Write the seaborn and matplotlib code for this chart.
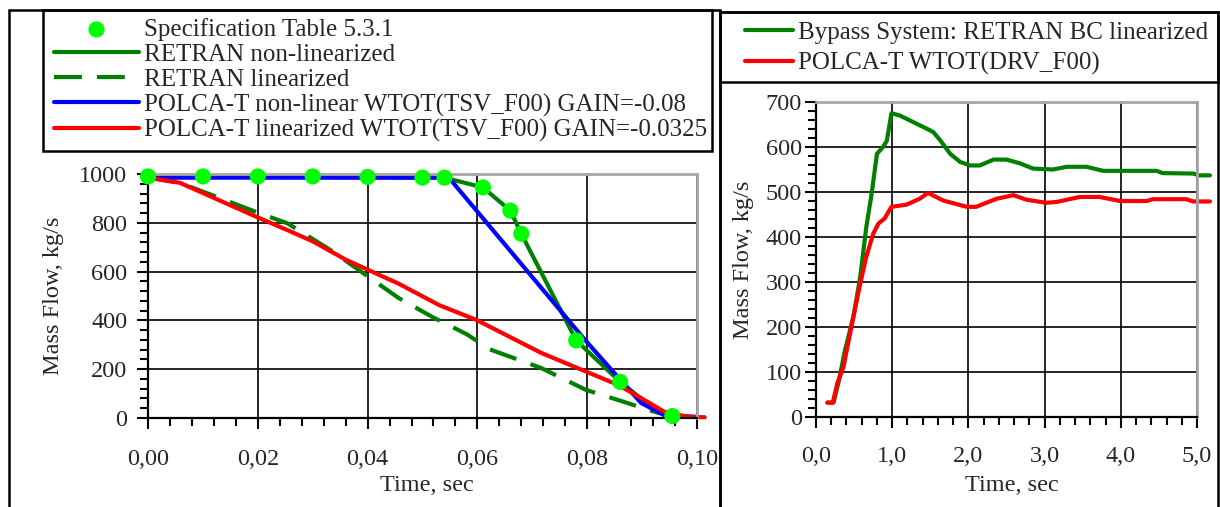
import matplotlib
matplotlib.use("Agg")
import matplotlib.pyplot as plt
import seaborn as sns
from matplotlib.patches import Rectangle
from matplotlib.ticker import MultipleLocator, FuncFormatter

# ---- left chart data (time in s, mass flow in kg/s) ----
spec_t = [0, 0.01, 0.02, 0.03, 0.04, 0.05, 0.054, 0.061, 0.066, 0.068, 0.078, 0.086, 0.0955]
spec_w = [990, 990, 990, 990, 988, 985, 985, 945, 850, 755, 318, 148, 8]

retran_nl_t = [0, 0.054, 0.061, 0.066, 0.068, 0.078, 0.086, 0.0916, 0.0955]
retran_nl_w = [990, 985, 945, 850, 755, 318, 148, 48, 8]

retran_lin_t = [0, 0.0058, 0.0202, 0.0254, 0.0334, 0.0395, 0.0457, 0.0518, 0.058, 0.0623,
                0.0716, 0.0798, 0.0856, 0.0916, 0.0955]
retran_lin_w = [985, 964, 840, 798, 686, 589, 491, 414, 344, 281, 205, 115, 74, 30, 5]

polca_nl_t = [0, 0.0548, 0.0796, 0.0855, 0.0898, 0.094, 0.0997]
polca_nl_w = [985, 985, 320, 170, 62, 12, 5]

polca_lin_t = [0, 0.0058, 0.0202, 0.0254, 0.030, 0.036, 0.040, 0.0457, 0.053, 0.060, 0.0716,
               0.0798, 0.0856, 0.0898, 0.094, 0.0983, 0.1014]
polca_lin_w = [985, 964, 820, 770, 724, 649, 608, 550, 463, 400, 267, 190, 136, 82, 26, 5, 3]

left_labels = ["Specification Table 5.3.1",
               "RETRAN non-linearized",
               "RETRAN linearized",
               "POLCA-T non-linear WTOT(TSV_F00) GAIN=-0.08",
               "POLCA-T linearized WTOT(TSV_F00) GAIN=-0.0325"]

# ---- right chart data ----
bypass_t = [0.15, 0.23, 0.30, 0.38, 0.49, 0.58, 0.66, 0.73, 0.80, 0.88, 0.93, 0.99, 1.10, 1.28,
            1.45, 1.54, 1.63, 1.76, 1.89, 2.02, 2.15, 2.33, 2.50, 2.67, 2.85, 3.11, 3.29, 3.55,
            3.77, 4.47, 4.55, 4.95, 5.03, 5.17]
bypass_w = [32, 32, 80, 148, 222, 311, 422, 496, 585, 600, 614, 675, 670, 655, 641, 633, 615,
            585, 567, 559, 559, 572, 572, 564, 552, 550, 556, 556, 547, 547, 542, 541, 537, 537]

drv_t = [0.15, 0.22, 0.28, 0.36, 0.49, 0.58, 0.66, 0.75, 0.82, 0.90, 0.99, 1.19, 1.36, 1.47,
         1.67, 1.98, 2.10, 2.37, 2.59, 2.76, 3.02, 3.16, 3.46, 3.72, 3.99, 4.34, 4.42, 4.86,
         4.95, 5.17]
drv_w = [32, 32, 75, 111, 222, 296, 356, 407, 430, 441, 467, 472, 485, 498, 481, 467, 467,
         485, 493, 483, 476, 478, 489, 489, 480, 480, 484, 484, 479, 479]

right_labels = ["Bypass System: RETRAN BC linearized", "POLCA-T WTOT(DRV_F00)"]

sns.set_theme(style="white")
plt.rcParams["font.family"] = ["Liberation Serif", "DejaVu Serif"]

W, H = 1220, 507
fig = plt.figure(figsize=(W / 100, H / 100), dpi=100)


def fx(px):
    return px / W


def fy(py):
    return 1 - py / H


LW = 3
FS = 17.5


def style_axes(ax, xpad, ypad):
    ax.set_axisbelow(True)
    ax.grid(True, which="major", color="black", lw=1.2)
    for s in ["left", "bottom"]:
        ax.spines[s].set_color("black")
        ax.spines[s].set_linewidth(1.6)
    for s in ["top", "right"]:
        ax.spines[s].set_color("#A6A6A6")
        ax.spines[s].set_linewidth(2)
    ax.tick_params(which="major", direction="out", length=8, width=1.5, color="black",
                   labelsize=FS, bottom=True, left=True)
    ax.tick_params(which="minor", direction="out", length=6, width=1.5, color="black",
                   bottom=True, left=True)
    ax.tick_params(axis="x", which="major", pad=xpad)
    ax.tick_params(axis="y", which="major", pad=ypad)
    ax.set_facecolor("white")


# ---------------- left chart ----------------
ax1 = fig.add_axes([fx(148), fy(418), (697 - 148) / W, (418 - 174) / H])
sns.lineplot(x=retran_lin_t, y=retran_lin_w, ax=ax1, color="#008000", lw=LW,
             linestyle=(0, (6.7, 3.6)), label=left_labels[2], estimator=None, sort=False,
             clip_on=False)
sns.lineplot(x=retran_nl_t, y=retran_nl_w, ax=ax1, color="#008000", lw=LW,
             label=left_labels[1], estimator=None, sort=False, clip_on=False)
sns.lineplot(x=polca_nl_t, y=polca_nl_w, ax=ax1, color="#0000FF", lw=LW,
             label=left_labels[3], estimator=None, sort=False, clip_on=False)
sns.lineplot(x=polca_lin_t, y=polca_lin_w, ax=ax1, color="#FF0000", lw=LW,
             label=left_labels[4], estimator=None, sort=False, clip_on=False)
sns.scatterplot(x=spec_t, y=spec_w, ax=ax1, color="#00FF00", s=135, edgecolor="none",
                label=left_labels[0], zorder=5, clip_on=False)

ax1.set_xlim(0, 0.10)
ax1.set_ylim(0, 1000)
ax1.xaxis.set_major_locator(MultipleLocator(0.02))
ax1.xaxis.set_minor_locator(MultipleLocator(0.004))
ax1.yaxis.set_major_locator(MultipleLocator(200))
ax1.yaxis.set_minor_locator(MultipleLocator(40))
ax1.xaxis.set_major_formatter(FuncFormatter(lambda v, p: f"{v:.2f}".replace(".", ",")))
style_axes(ax1, xpad=14, ypad=7)
ax1.set_xlabel("Time, sec", fontsize=FS)
ax1.set_ylabel("Mass Flow, kg/s", fontsize=FS, va="center")
ax1.xaxis.set_label_coords((427 - 148) / 549, -(475 - 418) / 244)
ax1.yaxis.set_label_coords((54 - 148) / 549, 0.5)

h1, l1 = ax1.get_legend_handles_labels()
if ax1.get_legend() is not None:
    ax1.get_legend().remove()
order = [l1.index(lab) for lab in left_labels]
fig.legend([h1[i] for i in order], [l1[i] for i in order], loc="upper left",
           bbox_to_anchor=(fx(54), fy(18)), frameon=False, borderpad=0, borderaxespad=0,
           handlelength=3.4, handletextpad=0.2, labelspacing=0.1, fontsize=18,
           scatterpoints=1)

# ---------------- right chart ----------------
ax2 = fig.add_axes([fx(816), fy(417), (1197 - 816) / W, (417 - 102) / H])
sns.lineplot(x=bypass_t, y=bypass_w, ax=ax2, color="#008000", lw=LW, label=right_labels[0],
             estimator=None, sort=False, clip_on=False)
sns.lineplot(x=drv_t, y=drv_w, ax=ax2, color="#FF0000", lw=LW, label=right_labels[1],
             estimator=None, sort=False, clip_on=False)
ax2.set_xlim(0, 5.0)
ax2.set_ylim(0, 700)
ax2.xaxis.set_major_locator(MultipleLocator(1.0))
ax2.xaxis.set_minor_locator(MultipleLocator(0.2))
ax2.yaxis.set_major_locator(MultipleLocator(100))
ax2.yaxis.set_minor_locator(MultipleLocator(20))
ax2.xaxis.set_major_formatter(FuncFormatter(lambda v, p: f"{v:.1f}".replace(".", ",")))
style_axes(ax2, xpad=13, ypad=2)
ax2.set_xlabel("Time, sec", fontsize=FS)
ax2.set_ylabel("Mass Flow, kg/s", fontsize=FS, va="center")
ax2.xaxis.set_label_coords((1012 - 816) / 381, -(475 - 417) / 315)
ax2.yaxis.set_label_coords((743 - 816) / 381, 0.5)

h2, l2 = ax2.get_legend_handles_labels()
if ax2.get_legend() is not None:
    ax2.get_legend().remove()
fig.legend(h2, l2, loc="upper left", bbox_to_anchor=(fx(745), fy(21)), frameon=False,
           borderpad=0, borderaxespad=0, handlelength=1.9, handletextpad=0.2,
           labelspacing=0.34, fontsize=18)

# ---------------- frames around panels and legends ----------------
def box(x0, y0, x1, y1, lw=1.8):
    fig.add_artist(Rectangle((fx(x0), fy(y1)), fx(x1) - fx(x0), fy(y0) - fy(y1),
                             transform=fig.transFigure, fill=False, ec="black", lw=lw,
                             clip_on=False))


box(9, 10, 720, 520)
box(720, 12, 1218, 520)
box(43, 10, 712, 151)
box(720, 12, 1218, 82)

fig.savefig("out.png", dpi=100, facecolor="white")
